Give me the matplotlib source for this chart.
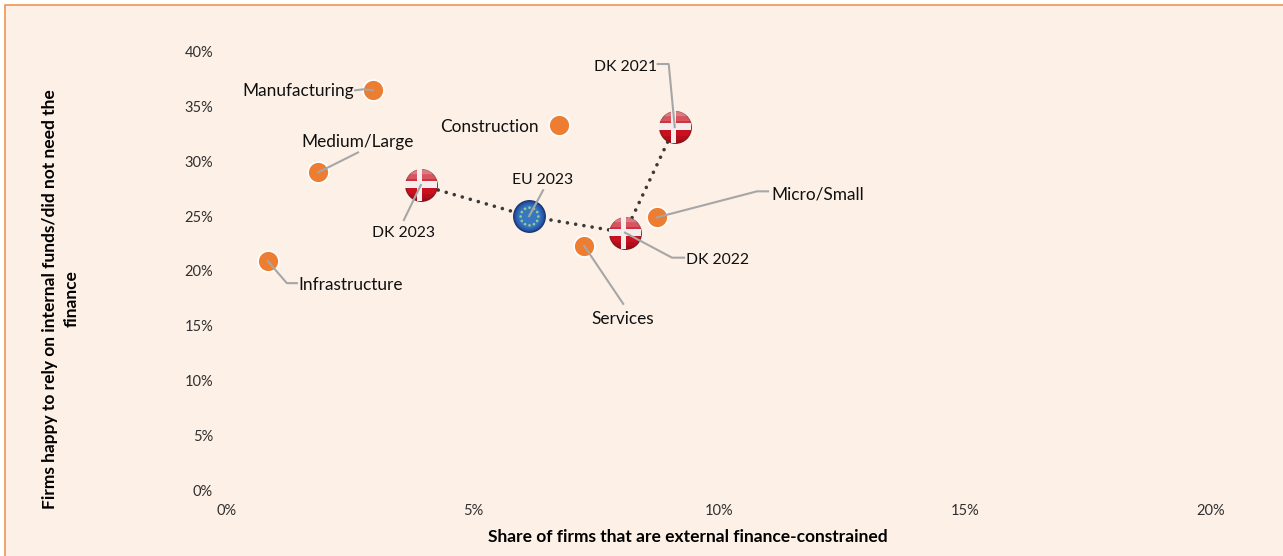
import matplotlib
matplotlib.use('Agg')
import matplotlib.pyplot as plt
import numpy as np
from matplotlib.lines import Line2D
from matplotlib.patches import Rectangle
from matplotlib.path import Path
from matplotlib.transforms import IdentityTransform

W, H = 1283, 556

sector_names = ["Manufacturing", "Construction", "Medium/Large", "Infrastructure", "Micro/Small", "Services"]
sector_x = [2.97, 6.75, 1.85, 0.83, 8.74, 7.26]
sector_y = [36.5, 33.3, 29.0, 20.9, 24.9, 22.3]

dk_names = ["DK 2021", "DK 2022", "DK 2023"]
dk_x = [9.10, 8.09, 3.94]
dk_y = [33.15, 23.5, 27.85]

eu_name = "EU 2023"
eu_x = [6.14]
eu_y = [25.0]

x_ticks = [0, 5, 10, 15, 20]
y_ticks = [0, 5, 10, 15, 20, 25, 30, 35, 40]

# label placement, in pixels from the mark: text offset, ha, leader points
label_layout = {
    "Manufacturing": ((-19, -1), "right", [(-18, 0), (-10, 1), (0, 0)]),
    "Construction": ((-20, -2), "right", []),
    "Medium/Large": ((40, 30), "center", [(40, 20), (0, 0)]),
    "Infrastructure": ((31, -24), "left", [(29, -22), (19, -22), (0, 0)]),
    "Micro/Small": ((114, 23), "left", [(111, 26), (100, 26), (0, 0)]),
    "Services": ((39, -73), "center", [(39, -58), (0, 0)]),
    "DK 2021": ((-18, 60), "right", [(-17, 63), (-6, 63), (0, 0)]),
    "DK 2022": ((61, -27), "left", [(59, -25), (47, -25), (0, 0)]),
    "DK 2023": ((-17, -48), "center", [(-17, -35), (0, 0)]),
    "EU 2023": ((13, 36), "center", [(14, 26), (0, 0)]),
}

plt.rcParams['font.family'] = ['Lato', 'DejaVu Sans']


def cap(h, sign=1):
    # circle segment beyond height h, used for the gloss on the flags
    t0 = np.arcsin(h)
    t = np.linspace(t0, np.pi - t0, 40)
    verts = np.column_stack([np.cos(t), sign * np.sin(t)])
    verts = np.vstack([verts, verts[0]])
    return Path(verts, closed=True)


fig = plt.figure(figsize=(W / 100, H / 100), dpi=100, facecolor='white')
fig.patches.append(Rectangle((5, -10), W + 10, H - 5 + 10, transform=IdentityTransform(),
                             facecolor='#FDF0E7', edgecolor='#F08A45', linewidth=1.1, zorder=-1))

ax = fig.add_axes([227 / W, (H - 490) / H, (1211 - 227) / W, (490 - 52) / H])
ax.set_facecolor('none')
ax.set_xlim(0, 20)
ax.set_ylim(0, 40)
for s in ax.spines.values():
    s.set_visible(False)
ax.set_xticks(x_ticks)
ax.set_yticks(y_ticks)
ax.set_xticklabels([f"{v}%" for v in x_ticks])
ax.set_yticklabels([f"{v}%" for v in y_ticks])
ax.tick_params(length=0, labelsize=10.5, labelcolor='#303030', pad=10)
ax.tick_params(axis='y', pad=10)

fig.text(688 / W, (H - 537) / H, "Share of firms that are external finance-constrained",
         ha='center', va='center', fontsize=12.5, fontweight='bold', color='black')
fig.text(61 / W, (H - 299) / H, "Firms happy to rely on internal funds/did not need the\nfinance",
         ha='center', va='center', rotation=90, fontsize=12.5, fontweight='bold',
         color='black', multialignment='center', linespacing=1.45)

# dotted path DK 2021 -> DK 2022 -> EU 2023 -> DK 2023
path_x = [dk_x[0], dk_x[1], eu_x[0], dk_x[2]]
path_y = [dk_y[0], dk_y[1], eu_y[0], dk_y[2]]
ax.plot(path_x, path_y, ls=(0, (0.01, 2.3)), lw=2.6, color='#3A3A3A', dash_capstyle='round', zorder=2)

# orange sector dots
ax.scatter(sector_x, sector_y, s=225, color='#ED7D31', edgecolors='white', linewidths=1.2, zorder=3)

# flag markers, built from stacked circles and caps
bar_v = Path([(-0.25, -0.97), (0.09, -0.97), (0.09, 0.97), (-0.25, 0.97), (-0.25, -0.97)], closed=True)
bar_h = Path([(-0.99, -0.18), (0.99, -0.18), (0.99, 0.22), (-0.99, 0.22), (-0.99, -0.18)], closed=True)
ax.scatter(dk_x, dk_y, s=560, color='#8A1A22', zorder=4, linewidths=0)
ax.scatter(dk_x, dk_y, s=480, color='#C8101E', zorder=4.1, linewidths=0)
for h, a in zip([0.05, 0.4, 0.7], [0.18, 0.22, 0.3]):
    ax.scatter(dk_x, dk_y, s=540, marker=cap(h), color='#F6D0D0', alpha=a, zorder=4.2, linewidths=0)
for h, a in zip([0.55, 0.8], [0.25, 0.35]):
    ax.scatter(dk_x, dk_y, s=520, marker=cap(h, -1), color='#7A0A12', alpha=a, zorder=4.2, linewidths=0)
ax.scatter(dk_x, dk_y, s=540, marker=bar_v, color='#F3EDED', zorder=4.3, linewidths=0)
ax.scatter(dk_x, dk_y, s=540, marker=bar_h, color='#F3EDED', zorder=4.3, linewidths=0)

# EU marker: radial shading and a ring of stars
eu_sizes = [560, 500, 430, 340, 250]
eu_colors = ['#1A2E66', '#1F4590', '#2858A8', '#2E68B8', '#3578BE']
for k, (sz, col) in enumerate(zip(eu_sizes, eu_colors)):
    ax.scatter(eu_x, eu_y, s=sz, color=col, zorder=4 + k / 100, linewidths=0)
theta = np.deg2rad(np.arange(0, 360, 30))
ring = Path.make_compound_path(*[
    Path.circle((np.cos(t) * 0.87, np.sin(t) * 0.87), 0.13) for t in theta
])
ax.scatter(eu_x, eu_y, s=215, marker=ring, color='#9CC58E', zorder=4.3, linewidths=0)

# labels and leader lines
names = sector_names + dk_names + [eu_name]
xs = sector_x + dk_x + eu_x
ys = sector_y + dk_y + eu_y
for name, x, y in zip(names, xs, ys):
    (tx, ty), ha, leader = label_layout[name]
    # Lato digits run wider than the original font, so year labels are set a bit smaller
    size = 11.3 if name[-4:].isdigit() else 12.4
    ax.annotate(name, (x, y), xytext=(tx, ty), textcoords='offset pixels', ha=ha, va='center',
                fontsize=size, color='#101010', zorder=6, annotation_clip=False)
    if leader:
        px, py = ax.transData.transform((x, y))
        ax.add_line(Line2D([px + d[0] for d in leader], [py + d[1] for d in leader],
                           transform=IdentityTransform(), color='#A6A6A6', lw=1.5,
                           zorder=5, clip_on=False))

plt.savefig("out.png", dpi=100, facecolor=fig.get_facecolor())
print("Saved: out.png")
